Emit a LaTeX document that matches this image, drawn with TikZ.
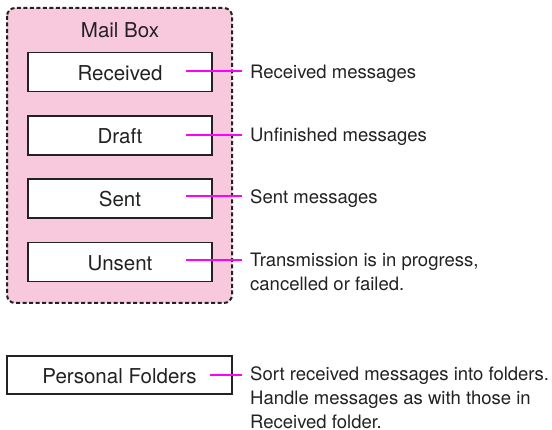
\documentclass[tikz,border=0pt]{standalone}
\usepackage{fontspec}
\setmainfont{TeX Gyre Heros}
\definecolor{boxpink}{HTML}{F8C8DC}
\definecolor{inkgray}{HTML}{222222}
\definecolor{linemag}{HTML}{FF00FF}
\tikzset{
  folderbox/.style={draw=inkgray, line width=1.5pt, fill=white, minimum width=184pt, minimum height=39pt,
    inner sep=0pt, text=inkgray, font=\fontsize{20.5}{24}\selectfont, text height=21pt, text depth=4.1pt},
  desc/.style={anchor=base west, inner xsep=8pt, inner ysep=0pt, align=left, text=inkgray,
    font=\fontsize{18.5}{24}\selectfont},
  conn/.style={draw=linemag, line width=2pt},
  mailframe/.style={draw=inkgray, fill=boxpink, line width=2pt, rounded corners=8pt, dash pattern=on 4pt off 2.5pt}
}
\begin{document}
\begin{tikzpicture}[x=1pt,y=-1pt]
\useasboundingbox (0,0) rectangle (552,430);
\draw[mailframe] (7,8) rectangle (232,303);
\node[anchor=base, text=inkgray, font=\fontsize{20.5}{24}\selectfont, inner sep=0pt] (title) at (120,37.7) {Mail Box};
\node[folderbox] (rec) at (120,72) {Received};
\node[folderbox] (dra) at (120,135.5) {Draft};
\node[folderbox] (sen) at (120,198.5) {Sent};
\node[folderbox] (uns) at (120,262) {Unsent};
\node[folderbox, minimum width=225pt, minimum height=38pt] (per) at (119.5,375) {Personal Folders};
\node[desc] (recl) at (242,78.5) {Received messages};
\node[desc] (dral) at (242,142) {Unfinished messages};
\node[desc] (senl) at (242,203.5) {Sent messages};
\node[desc] (unsl) at (242,291) {Transmission is in progress,\\cancelled or failed.};
\node[desc] (perl) at (242,428.5) {Sort received messages into folders.\\Handle messages as with those in\\Received folder.};
\draw[conn] ([xshift=-27pt,yshift=1pt]rec.east) -- ([yshift=1pt]rec.east -| recl.west);
\draw[conn] ([xshift=-27pt]dra.east) -- (dra.east -| dral.west);
\draw[conn] ([xshift=-27pt,yshift=2pt]sen.east) -- ([yshift=2pt]sen.east -| senl.west);
\draw[conn] ([xshift=-27pt,yshift=2pt]uns.east) -- ([yshift=2pt]uns.east -| unsl.west);
\draw[conn] ([xshift=-23pt]per.east) -- (per.east -| perl.west);
\end{tikzpicture}
\end{document}
